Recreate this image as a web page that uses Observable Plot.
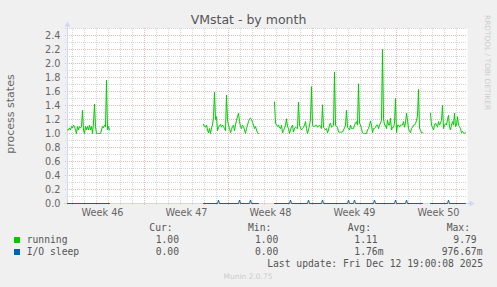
<!DOCTYPE html>
<html><head><meta charset="utf-8">
<script src="https://cdn.jsdelivr.net/npm/d3@7"></script>
<script src="https://cdn.jsdelivr.net/npm/@observablehq/plot@0.6"></script>
<style>
html,body{margin:0;padding:0;background:#f0f0f0;}
#wrap{position:relative;width:497px;height:287px;overflow:hidden;background:#f0f0f0;}
#chart{position:absolute;left:0;top:0;}
#overlay{position:absolute;left:0;top:0;pointer-events:none;}
</style></head><body>
<div id="wrap"><div id="chart"></div><svg id="overlay" width="497" height="287" xmlns="http://www.w3.org/2000/svg"></svg></div>
<script>
// ---------- data ----------
const chartTitle = "VMstat - by month";
const yLabel = "process states";
const seriesNames = ["running", "I/O sleep"];
const seriesColors = ["#00CC00", "#0066B3"];
const stepHours = 2;
const rangeStart = "2025-11-09T14:00:00Z";
const rangeEnd = "2025-12-12T22:00:00Z";
const yMax = 2.5;
const yTicks = [0, 0.2, 0.4, 0.6, 0.8, 1.0, 1.2, 1.4, 1.6, 1.8, 2.0, 2.2, 2.4];
const weekLabels = ["Week 46", "Week 47", "Week 48", "Week 49", "Week 50"];
const weekLabelTimes = ["2025-11-12T12:00:00Z", "2025-11-19T12:00:00Z", "2025-11-26T12:00:00Z", "2025-12-03T12:00:00Z", "2025-12-10T12:00:00Z"];
const weekGridTimes = ["2025-11-16T00:00:00Z", "2025-11-23T00:00:00Z", "2025-11-30T00:00:00Z", "2025-12-07T00:00:00Z"];

const runningSeg1Start = "2025-11-09T14:00:00Z";
const runningSeg1 = [1.05,1.05,1.08,1.05,1.10,1.08,1.12,1.10,1.05,1.00,1.10,1.05,1.10,1.08,1.10,1.33,1.05,1.00,1.10,1.05,1.10,1.05,1.12,1.05,1.10,1.00,1.15,1.42,1.10,1.00,1.00,1.00,1.00,1.00,1.05,1.10,1.08,1.12,1.10,1.76,1.05,1.10,1.05];
const runningSeg2Start = "2025-11-20T22:00:00Z";
const runningSeg2 = [1.13,1.10,1.09,1.12,1.05,1.01,1.07,1.00,1.08,1.12,1.24,1.59,1.20,1.24,1.04,1.09,1.11,1.13,1.09,1.12,1.10,1.07,1.04,1.55,1.19,1.12,1.07,1.01,1.06,1.10,1.12,1.04,1.12,1.19,1.24,1.29,1.17,1.10,1.07,1.12,1.10,1.05,1.00,1.07,1.12,1.17,1.21,1.22,1.20,1.16,1.12,1.07,1.10,1.05,1.01,1.00];
const runningSeg3Start = "2025-11-26T20:00:00Z";
const runningSeg3 = [
  1.45,1.15,1.12,1.10,1.12,1.08,1.07,1.12,1.01,1.04,
  1.08,1.12,1.21,1.10,1.07,1.00,1.05,1.10,1.12,1.02,
  1.07,1.09,1.08,1.07,1.45,1.12,1.08,1.05,1.07,1.09,
  1.12,1.17,1.07,1.00,1.05,1.12,1.20,1.67,1.12,1.10,
  1.10,1.12,1.12,1.09,1.10,1.12,1.10,1.07,1.41,1.09,
  1.07,1.05,1.07,1.01,1.05,1.12,1.15,1.09,1.10,1.12,
  1.88,1.12,1.10,1.09,1.02,1.02,1.02,1.02,1.02,1.05,
  1.08,1.12,1.33,1.09,1.07,1.05,1.12,1.07,1.07,1.07,
  1.12,1.15,1.17,1.12,1.71,1.15,1.12,1.07,1.01,1.00,
  1.00,1.00,1.00,1.05,1.07,1.12,1.18,1.12,1.01,1.07,
  1.07,1.09,1.12,1.12,1.07,1.12,1.15,1.19,2.20,1.21,
  1.12,1.12,1.07,1.19,1.12,1.12,1.22,1.05,1.09,1.09,
  1.14,1.50,1.01,1.12,1.12,1.09,1.12,1.12,1.12,1.17,
  1.09,1.15,1.29,1.19,1.07,1.03,1.01,1.07,1.09,1.12,
  1.12,1.14,1.19,1.25,1.63,1.07,1.05,1.01,1.01];
const runningSeg4Start = "2025-12-09T20:00:00Z";
const runningSeg4 = [1.29,1.12,1.09,1.05,1.12,1.15,1.12,1.09,1.17,1.12,1.15,1.19,1.40,1.07,1.12,1.14,1.12,1.20,1.26,1.09,1.05,1.12,1.17,1.12,1.29,1.10,1.12,1.24,1.12,1.10,1.07,1.01,1.03,1.01,1.00,1.01];

// I/O sleep: 0 wherever data exists, except these short peaks
const ioSleepPeakTimes = ["2025-11-22T04:00:00Z","2025-11-23T22:00:00Z","2025-11-24T20:00:00Z","2025-11-28T04:00:00Z","2025-11-29T16:00:00Z","2025-11-30T20:00:00Z","2025-12-03T00:00:00Z","2025-12-03T12:00:00Z","2025-12-05T04:00:00Z","2025-12-06T22:00:00Z","2025-12-07T20:00:00Z","2025-12-11T08:00:00Z"];
const ioSleepPeakValues = [0.05,0.05,0.05,0.05,0.05,0.05,0.05,0.05,0.05,0.05,0.05,0.05];

const legendHeader = ["Cur:", "Min:", "Avg:", "Max:"];
const runningStats = ["1.00", "1.00", "1.11", "9.79"];
const ioSleepStats = ["0.00", "0.00", "1.76m", "976.67m"];
const lastUpdate = "Last update: Fri Dec 12 19:00:08 2025";
const footer = "Munin 2.0.75";
const watermark = "RRDTOOL / TOBI OETIKER";

// ---------- build tables ----------
const H = 3600e3;
const segStarts = [runningSeg1Start, runningSeg2Start, runningSeg3Start, runningSeg4Start];
const segValues = [runningSeg1, runningSeg2, runningSeg3, runningSeg4];
const runningPts = [];
const ioPts = [];
segStarts.forEach((s, k) => {
  const t0 = +new Date(s);
  const vals = segValues[k];
  vals.forEach((v, i) => runningPts.push({time: new Date(t0 + i * stepHours * H), value: v, seg: k}));
  const t1 = t0 + (vals.length - 1) * stepHours * H;
  const pts = [{time: new Date(t0), value: 0, seg: k}, {time: new Date(t1), value: 0, seg: k}];
  ioSleepPeakTimes.forEach((p, j) => {
    const tp = +new Date(p);
    if (tp >= t0 && tp <= t1) {
      pts.push({time: new Date(tp - stepHours * H), value: 0, seg: k});
      pts.push({time: new Date(tp), value: ioSleepPeakValues[j], seg: k});
      pts.push({time: new Date(tp + stepHours * H), value: 0, seg: k});
    }
  });
  pts.sort((a, b) => a.time - b.time);
  ioPts.push(...pts);
});

const x0 = new Date(rangeStart), x1 = new Date(rangeEnd);
const dayTicks = d3.utcDay.range(x0, x1);
const minorY = d3.range(1, 26, 2).map(d => d / 10);
const majorY = yTicks.filter(v => v > 0);
const weekGrid = weekGridTimes.map(d => new Date(d));
const labelTimes = weekLabelTimes.map(d => new Date(d));
const labelMap = new Map(labelTimes.map((d, i) => [+d, weekLabels[i]]));

const gridGray = "#d6d6d6";
const gridRed = "#f2b4b4";
const axisColor = "#CFD6F8";
const textColor = "#666666";

const chart = Plot.plot({
  width: 497, height: 225,
  marginLeft: 67, marginRight: 30, marginTop: 28, marginBottom: 22,
  style: {background: "transparent", fontFamily: "'DejaVu Sans'", fontSize: "9.7px", color: textColor},
  x: {type: "utc", domain: [x0, x1]},
  y: {domain: [0, yMax]},
  marks: [
    Plot.frame({fill: "#ffffff", stroke: "none"}),
    Plot.ruleX(dayTicks, {stroke: gridGray, strokeDasharray: "1,1", insetBottom: -2}),
    Plot.ruleY(minorY, {stroke: gridGray, strokeDasharray: "1,1", insetLeft: -2}),
    Plot.ruleX(weekGrid, {stroke: gridRed, strokeDasharray: "1,1", insetBottom: -2}),
    Plot.ruleY(majorY, {stroke: gridRed, strokeDasharray: "1,1", insetLeft: -2}),
    Plot.ruleX([x0], {stroke: axisColor, insetTop: -3, insetBottom: -2}),
    Plot.ruleY([0], {stroke: axisColor, insetLeft: -3, insetRight: -3}),
    Plot.line(ioPts, {x: "time", y: "value", z: "seg", stroke: seriesColors[1], strokeWidth: 1}),
    Plot.line(runningPts, {x: "time", y: "value", z: "seg", stroke: seriesColors[0], strokeWidth: 1}),
    Plot.dot([{t: x0, v: yMax}], {x: "t", y: "v", symbol: "triangle", r: 2.2, fill: axisColor, stroke: "none", dy: -3.6}),
    Plot.dot([{t: x1, v: 0}], {x: "t", y: "v", symbol: "triangle", r: 2.2, fill: axisColor, stroke: "none", rotate: 90, dx: 3.7}),
    Plot.axisY(yTicks, {tickSize: 0, tickPadding: 7, tickFormat: d3.format(".1f")}),
    Plot.axisX(labelTimes, {tickSize: 0, tickPadding: 6, tickFormat: d => labelMap.get(+d)})
  ]
});
document.getElementById("chart").appendChild(chart);

// ---------- overlay texts / legend ----------
const ov = d3.select("#overlay");
ov.append("text").attr("x", 248.5).attr("y", 24).attr("text-anchor", "middle")
  .attr("font-family", "DejaVu Sans").attr("font-size", 12.5).attr("fill", "#555").text(chartTitle);
ov.append("text").attr("transform", "translate(13.5,114) rotate(-90)").attr("text-anchor", "middle")
  .attr("font-family", "DejaVu Sans").attr("font-size", 11).attr("fill", textColor).text(yLabel);
ov.append("text").attr("transform", "translate(485,15) rotate(90)")
  .attr("font-family", "DejaVu Sans").attr("font-size", 7.4).attr("fill", "#cccccc").text(watermark);

const mono = {"font-family": "DejaVu Sans Mono", "font-size": 9.7, "fill": "#555"};
function t(x, y, s, anchor) {
  const e = ov.append("text").attr("x", x).attr("y", y).attr("text-anchor", anchor || "start").attr("xml:space", "preserve").text(s);
  for (const k in mono) e.attr(k, mono[k]);
  return e;
}
const headerX = [149.3, 248, 347.7, 446.7];
legendHeader.forEach((h, i) => t(headerX[i], 231, h));
[seriesNames[0], seriesNames[1]].forEach((name, r) => {
  const y = 243 + r * 12;
  ov.append("rect").attr("x", 14).attr("y", y - 6).attr("width", 6).attr("height", 6).attr("fill", seriesColors[r]);
  t(26.7, y, name);
});
const valueEndX = [179, 278.3, 377.7, 476.7];
runningStats.forEach((s, i) => t(valueEndX[i], 243, s, "end"));
ioSleepStats.forEach((s, i) => {
  const hasUnit = /[a-zA-Z]$/.test(s);
  t(valueEndX[i] + (hasUnit ? 5.83 : 0), 255, s, "end");
});
t(483, 267, lastUpdate, "end");
ov.append("text").attr("x", 248).attr("y", 279).attr("text-anchor", "middle")
  .attr("font-family", "DejaVu Sans").attr("font-size", 7.5).attr("fill", "#cccccc").text(footer);
</script>
</body></html>
